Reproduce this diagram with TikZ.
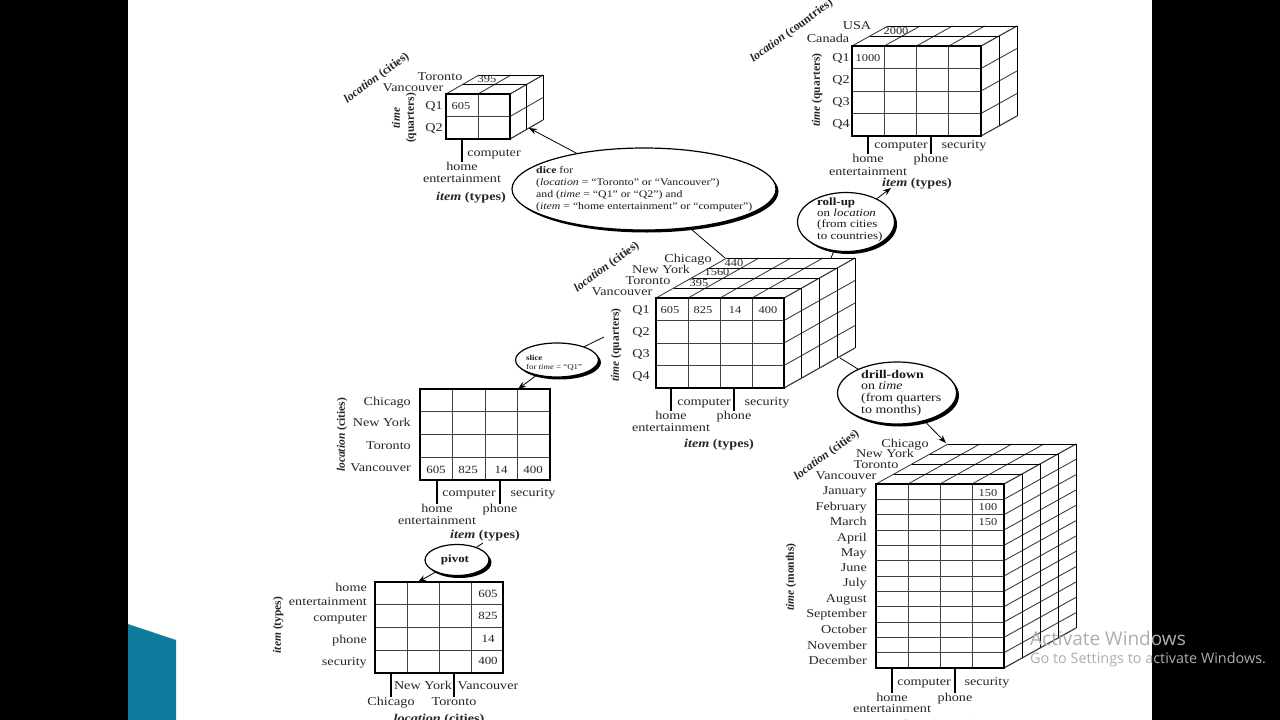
\documentclass[tikz,border=0pt]{standalone}
\usepackage{fontspec}
\setmainfont{Liberation Serif}[FakeStretch=1.18]
\newfontfamily\rotfont{Liberation Serif}
\newfontfamily\winfont{Open Sans}
\usetikzlibrary{shapes.geometric,shadows,arrows.meta}

\definecolor{cornerteal}{HTML}{0E7C9C}

\tikzset{
  frameline/.style={line width=1.1pt, black},
  gridline/.style={line width=0.9pt, black!75},
  lbl/.style={font=\fontsize{12}{12}\selectfont, inner sep=0pt, text height=8.5pt, text depth=0pt, black!85},
  cellval/.style={lbl, font=\fontsize{10.5}{12}\selectfont},
  tableval/.style={lbl, font=\fontsize{11}{12}\selectfont},
  itemlbl/.style={lbl, font=\fontsize{12}{12}\selectfont\bfseries},
  slantlbl/.style={lbl, font=\rotfont\fontsize{12}{12}\selectfont\bfseries, rotate=36},
  vertlbl/.style={lbl, font=\rotfont\fontsize{11.5}{14}\selectfont\bfseries, rotate=90, align=center, text height=, text depth=},
  opbubble/.style={ellipse, draw, line width=1.2pt, fill=white, inner sep=0pt,
    drop shadow={shadow xshift=2.5pt, shadow yshift=-2.5pt, fill=black, opacity=1}},
  optext/.style={anchor=west, align=left, inner sep=0pt, black!90},
  oparrow/.style={line width=0.8pt, -{Stealth[length=8pt,width=6pt]}},
  opline/.style={line width=0.8pt},
  winmark/.style={black!32, inner sep=0pt, anchor=west}
}

% left, top, right, bottom, columns, rows, layers, back dx, back dy
\newcommand{\datacube}[9]{
  \pgfmathsetmacro{\cw}{(#3-#1)/#5}
  \pgfmathsetmacro{\ch}{(#4-#2)/#6}
  \ifnum#7>0
    \foreach \col in {0,...,#5}
      \draw[gridline] ({#1+\col*\cw},#2) -- ++(#8,#9);
    \foreach \row in {0,...,#6}
      \draw[gridline] (#3,{#2+\row*\ch}) -- ++(#8,#9);
    \foreach \lay in {1,...,#7} {
      \draw[gridline, black] ({#1+\lay/#7*#8},{#2+\lay/#7*#9}) -- ({#3+\lay/#7*#8},{#2+\lay/#7*#9})
        -- ({#3+\lay/#7*#8},{#4+\lay/#7*#9});
    }
    \draw[gridline] (#3,#4) -- ++(#8,#9);
  \fi
  \foreach \col in {1,...,#5}
    \draw[gridline] ({#1+\col*\cw},#2) -- ({#1+\col*\cw},#4);
  \foreach \row in {1,...,#6}
    \draw[gridline] (#1,{#2+\row*\ch}) -- (#3,{#2+\row*\ch});
  \draw[frameline] (#1,#2) rectangle (#3,#4);
}
\newcommand{\axisname}[2]{\textit{#1} (#2)}

\begin{document}
\begin{tikzpicture}[x=1pt,y=-1pt]
\useasboundingbox (0,0) rectangle (1280,720);

% Slide background
\fill[black] (0,0) rectangle (1280,720);
\fill[white] (128,0) rectangle (1152,720);
\fill[cornerteal] (128,624) -- (176,640) -- (176,720) -- (128,720) -- cycle;

% Cubes and tables
\datacube{446}{94}{510}{139}{2}{2}{2}{33}{-19}
\datacube{852}{46}{981}{136}{4}{4}{2}{36}{-20}
\datacube{656}{298}{784}{388}{4}{4}{4}{71}{-40}
\datacube{420}{389}{550}{480}{4}{4}{0}{0}{0}
\datacube{375}{582}{503}{673}{4}{4}{0}{0}{0}
\datacube{876}{484}{1004}{668}{4}{12}{4}{72}{-40}

% Connector ends
\coordinate (dicetip) at (529,128);
\coordinate (dicecube) at (725,258);
\coordinate (rolltip) at (891,188);
\coordinate (rollcube) at (831,258);
\coordinate (slicecube) at (604,337);
\coordinate (slicetip) at (518,389);
\coordinate (drillcube) at (840,358);
\coordinate (drilltip) at (946,443);
\coordinate (pivotfree) at (483,543);
\coordinate (pivottip) at (418,582);

% Operations
\node[opbubble, minimum width=264pt, minimum height=82pt] (dice) at (644,189) {};
\node[opbubble, minimum width=97pt, minimum height=59pt] (rollup) at (846,222) {};
\node[opbubble, minimum width=83pt, minimum height=34pt] (slice) at (557,360) {};
\node[opbubble, minimum width=119pt, minimum height=62pt] (drill) at (897,393) {};
\node[opbubble, minimum width=64pt, minimum height=31pt] (pivot) at (457,560) {};

\draw[oparrow] (dice) -- (dicetip);
\draw[opline] (dice) -- (dicecube);
\draw[oparrow] (rollup) -- (rolltip);
\draw[opline] (rollup) -- (rollcube);
\draw[opline] (slice) -- (slicecube);
\draw[oparrow] (slice) -- (slicetip);
\draw[opline] (drill) -- (drillcube);
\draw[oparrow] (drill) -- (drilltip);
\draw[opline] (pivot) -- (pivotfree);
\draw[oparrow] (pivot) -- (pivottip);

\node[optext, font=\fontsize{10}{12}\selectfont] (dicetext) at (536,189)
  {\textbf{dice} for\\(\textit{location} = “Toronto” or “Vancouver”)\\and (\textit{time} = “Q1” or “Q2”) and\\(\textit{item} = “home entertainment” or “computer”)};
\node[optext, font=\fontsize{11}{11.3}\selectfont] (rolltext) at (817,219.5)
  {\textbf{roll-up}\\on \textit{location}\\(from cities\\to countries)};
\node[optext, font=\fontsize{7.5}{9}\selectfont] (slicetext) at (526,363)
  {\textbf{slice}\\for \textit{time} = “Q1”};
\node[optext, font=\fontsize{11.8}{11.7}\selectfont] (drilltext) at (861,393)
  {\textbf{drill-down}\\on \textit{time}\\(from quarters\\to months)};
\node[optext, anchor=center, font=\fontsize{11}{12}\selectfont] (pivottext) at (455,560) {\textbf{pivot}};

% Dice cube labels
\node[slantlbl] (alocation) at (376,77) {\axisname{location}{cities}};
\node[vertlbl] (atime) at (404,118) {\textit{time}\\(quarters)};
\foreach \nm/\xp/\yp/\txt in {tor/440/76/Toronto, van/413/87/Vancouver, qa/434/105/Q1, qb/434/127/Q2,
    comp/494/152/computer, home/462/166/home, ent/462/178/entertainment}
  \node[lbl] (a\nm) at (\xp,\yp) {\txt};
\node[cellval] (aval) at (461,105) {605};
\node[cellval] (aback) at (487,78) {395};
\node[itemlbl] (aitem) at (471,196) {\textit{item} (types)};
\coordinate (abase) at (446,139);
\draw[frameline] (ahome.north |- abase) -- (ahome.north);

% Roll-up cube labels
\node[slantlbl] (blocation) at (791,30) {\axisname{location}{countries}};
\node[vertlbl] (btime) at (817,90) {\axisname{time}{quarters}};
\foreach \nm/\xp/\yp/\txt in {usa/857/25/USA, can/828/38/Canada, qa/841/57/Q1, qb/841/79/Q2, qc/841/101/Q3, qd/841/123/Q4,
    comp/901/144/computer, sec/964/144/security, home/868/158/home, phone/931/158/phone, ent/868/171/entertainment}
  \node[lbl] (b\nm) at (\xp,\yp) {\txt};
\node[cellval] (bval) at (868,57) {1000};
\node[cellval] (bback) at (896,30) {2000};
\node[itemlbl] (bitem) at (917,182) {\textit{item} (types)};
\coordinate (bbase) at (852,136);
\draw[frameline] (bhome.north |- bbase) -- (bhome.north);
\draw[frameline] (bphone.north |- bbase) -- (bphone.north);

% Main cube labels
\node[slantlbl] (clocation) at (606,266) {\axisname{location}{cities}};
\node[vertlbl] (ctime) at (616,345) {\axisname{time}{quarters}};
\foreach \nm/\xp/\yp/\txt in {chi/688/258/Chicago, ny/661/269/New York, tor/648/280/Toronto, van/622/291/Vancouver,
    qa/641/309/Q1, qb/641/331/Q2, qc/641/353/Q3, qd/641/375/Q4,
    comp/704/401/computer, sec/767/401/security, home/671/415/home, phone/734/415/phone, ent/671/427/entertainment}
  \node[lbl] (c\nm) at (\xp,\yp) {\txt};
\foreach \xp/\yp/\txt in {670/309/605, 703/309/825, 735/309/14, 768/309/400, 734/262/440, 717/271/1560, 699/282/395}
  \node[cellval] (cval\txt) at (\xp,\yp) {\txt};
\node[itemlbl] (citem) at (719,443) {\textit{item} (types)};
\coordinate (cbase) at (656,388);
\draw[frameline] (chome.north |- cbase) -- (chome.north);
\draw[frameline] (cphone.north |- cbase) -- (cphone.north);

% Slice table labels
\node[vertlbl] (dlocation) at (342,435) {\axisname{location}{cities}};
\foreach \yp/\txt in {401/Chicago, 422/New York, 445/Toronto, 467/Vancouver}
  \node[lbl, anchor=east] (d\txt) at (411,\yp) {\txt};
\foreach \nm/\xp/\yp/\txt in {comp/469/492/computer, sec/533/492/security, home/437/508/home, phone/500/508/phone, ent/437/520/entertainment}
  \node[lbl] (d\nm) at (\xp,\yp) {\txt};
\foreach \xp/\txt in {436/605, 468/825, 501/14, 533/400}
  \node[tableval] (dval\txt) at (\xp,469) {\txt};
\node[itemlbl] (ditem) at (485,534) {\textit{item} (types)};
\coordinate (dbase) at (420,480);
\draw[frameline] (dhome.north |- dbase) -- (dhome.north);
\draw[frameline] (dphone.north |- dbase) -- (dphone.north);

% Pivot table labels
\node[vertlbl] (eitem) at (278,625) {\axisname{item}{types}};
\foreach \yp/\txt in {587/home, 601/entertainment, 617/computer, 639/phone, 661/security}
  \node[lbl, anchor=east] (e\txt) at (367,\yp) {\txt};
\foreach \yp/\txt in {593/605, 615/825, 638/14, 660/400}
  \node[tableval] (eval\txt) at (488,\yp) {\txt};
\foreach \nm/\xp/\yp/\txt in {ny/423/685/New York, van/488/685/Vancouver, chi/391/701/Chicago, tor/454/701/Toronto}
  \node[lbl] (e\nm) at (\xp,\yp) {\txt};
\node[itemlbl] (eloc) at (439,718) {\textit{location} (cities)};
\coordinate (ebase) at (375,673);
\draw[frameline] (echi.north |- ebase) -- (echi.north);
\draw[frameline] (etor.north |- ebase) -- (etor.north);

% Drill-down cube labels
\node[slantlbl] (flocation) at (826,454) {\axisname{location}{cities}};
\node[vertlbl] (ftime) at (791,577) {\axisname{time}{months}};
\foreach \nm/\xp/\yp/\txt in {chi/905/443/Chicago, ny/885/453/New York, tor/876/464/Toronto, van/846/475/Vancouver,
    comp/924/681/computer, sec/987/681/security, home/892/697/home, phone/955/697/phone, ent/892/708/entertainment}
  \node[lbl] (f\nm) at (\xp,\yp) {\txt};
\foreach \yp/\txt in {490/January, 506/February, 521/March, 537/April, 552/May, 567/June, 582/July, 598/August,
    613/September, 629/October, 645/November, 660/December}
  \node[lbl, anchor=east] (f\txt) at (867,\yp) {\txt};
\foreach \yp/\nm/\txt in {492/a/150, 506/b/100, 521/c/150}
  \node[cellval] (fval\nm) at (988,\yp) {\txt};
\node[itemlbl] (fitem) at (938,724) {\textit{item} (types)};
\coordinate (fbase) at (876,668);
\draw[frameline] (fhome.north |- fbase) -- (fhome.north);
\draw[frameline] (fphone.north |- fbase) -- (fphone.north);

% Watermark
\node[winmark, font=\winfont\fontsize{19}{22}\selectfont] (winact) at (1030,638) {Activate Windows};
\node[winmark, font=\winfont\fontsize{14.4}{17}\selectfont] (winset) at (1030,660) {Go to Settings to activate Windows.};
\end{tikzpicture}
\end{document}
